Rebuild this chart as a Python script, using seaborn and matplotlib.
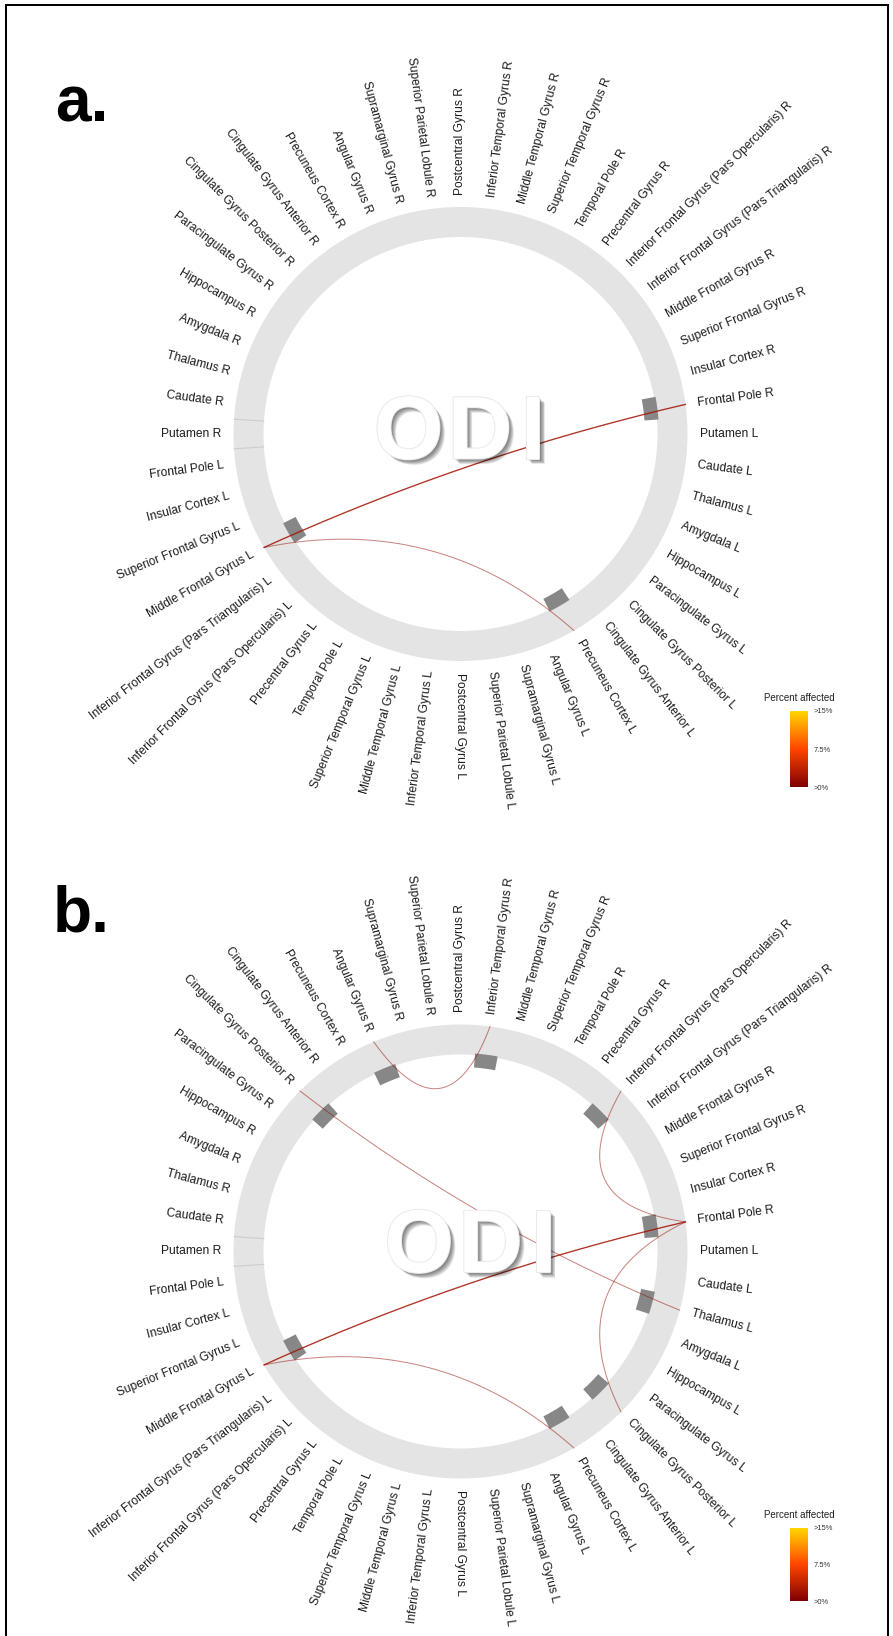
import numpy as np
import matplotlib
matplotlib.use("Agg")
import matplotlib.pyplot as plt
import seaborn as sns
import pandas as pd
from matplotlib.patches import Wedge
from matplotlib import patheffects as pe
from matplotlib.cm import ScalarMappable
from matplotlib.colors import Normalize

sns.set_theme(style="white")
plt.rcParams["font.family"] = ["Liberation Sans", "DejaVu Sans"]

# ---------------------------------------------------------------- data
regions_right = [
    "Frontal Pole R", "Insular Cortex R", "Superior Frontal Gyrus R",
    "Middle Frontal Gyrus R", "Inferior Frontal Gyrus (Pars Triangularis) R",
    "Inferior Frontal Gyrus (Pars Opercularis) R", "Precentral Gyrus R",
    "Temporal Pole R", "Superior Temporal Gyrus R", "Middle Temporal Gyrus R",
    "Inferior Temporal Gyrus R", "Postcentral Gyrus R",
    "Superior Parietal Lobule R", "Supramarginal Gyrus R", "Angular Gyrus R",
    "Precuneus Cortex R", "Cingulate Gyrus Anterior R",
    "Cingulate Gyrus Posterior R", "Paracingulate Gyrus R", "Hippocampus R",
    "Amygdala R", "Thalamus R", "Caudate R", "Putamen R",
]
regions_left = [
    "Frontal Pole L", "Insular Cortex L", "Superior Frontal Gyrus L",
    "Middle Frontal Gyrus L", "Inferior Frontal Gyrus (Pars Triangularis) L",
    "Inferior Frontal Gyrus (Pars Opercularis) L", "Precentral Gyrus L",
    "Temporal Pole L", "Superior Temporal Gyrus L", "Middle Temporal Gyrus L",
    "Inferior Temporal Gyrus L", "Postcentral Gyrus L",
    "Superior Parietal Lobule L", "Supramarginal Gyrus L", "Angular Gyrus L",
    "Precuneus Cortex L", "Cingulate Gyrus Anterior L",
    "Cingulate Gyrus Posterior L", "Paracingulate Gyrus L", "Hippocampus L",
    "Amygdala L", "Thalamus L", "Caudate L", "Putamen L",
]

# connections: (region 1, region 2, percent affected)
chords_a = [
    ("Frontal Pole R", "Middle Frontal Gyrus L", 2.0),
    ("Middle Frontal Gyrus L", "Precuneus Cortex L", 1.0),
]
chords_b = [
    ("Frontal Pole R", "Middle Frontal Gyrus L", 2.0),
    ("Middle Frontal Gyrus L", "Precuneus Cortex L", 1.0),
    ("Angular Gyrus R", "Inferior Temporal Gyrus R", 1.0),
    ("Inferior Frontal Gyrus (Pars Opercularis) R", "Frontal Pole R", 1.0),
    ("Frontal Pole R", "Cingulate Gyrus Posterior L", 1.0),
    ("Cingulate Gyrus Posterior R", "Thalamus L", 1.0),
]

panel_letters = ["a.", "b."]
center_title = "ODI"
cbar_title = "Percent affected"
cbar_ticks = [0, 7.5, 15]
cbar_ticklabels = [">0%", "7.5%", ">15%"]
cbar_colors = ["#7f0000", "#ff4500", "#ffd700"]

# ---------------------------------------------------------------- layout
W, H, DPI = 893, 1636, 100
PT = 72.0 / DPI                      # points per pixel

regions = regions_right + regions_left
step = 360.0 / len(regions)
angle = {name: step * (i + 1) for i, name in enumerate(regions)}

R_OUT, R_IN = 227.0, 197.0
R_LABEL = 239.0
cmap = sns.blend_palette(cbar_colors, as_cmap=True)
norm = Normalize(0, 15)

fig = plt.figure(figsize=(W / DPI, H / DPI), dpi=DPI)
fig.patch.set_facecolor("white")
ax = fig.add_axes([0, 0, 1, 1])
ax.axis("off")


def polar(cx, cy, r, a_deg):
    a = np.deg2rad(a_deg)
    return cx + r * np.cos(a), cy - r * np.sin(a)


def draw_panel(cx, cy, chords, letter, letter_xy, odi_xy, cbar_box):
    # outer ring
    ax.add_patch(Wedge((cx, cy), R_OUT, 0, 360, width=R_OUT - R_IN,
                       facecolor="#e4e4e4", edgecolor="none", zorder=1))
    for a in (angle["Putamen R"] - step / 2, angle["Putamen R"] + step / 2):
        x0, y0 = polar(cx, cy, R_IN, a)
        x1, y1 = polar(cx, cy, R_OUT, a)
        ax.plot([x0, x1], [y0, y1], color="#cdcdcd", lw=0.8, zorder=1.5)

    # region labels
    for name in regions:
        a = angle[name]
        x, y = polar(cx, cy, R_LABEL, a)
        if 90 < a < 270:
            rot, ha = a - 180, "right"
        else:
            rot, ha = (a if a <= 90 else a - 360), "left"
        ax.text(x, y, name, rotation=rot, rotation_mode="anchor", ha=ha,
                va="center", fontsize=12 * PT, color="#1c1c1c", zorder=3)

    # markers for regions taking part in a connection
    used = []
    for s, t, _ in chords:
        for n in (s, t):
            if n not in used:
                used.append(n)
    for n in used:
        a = angle[n]
        ax.add_patch(Wedge((cx, cy), 198.5, -a - 3.3, -a + 3.3, width=14,
                           facecolor="#878787", edgecolor="none", zorder=2))

    # connections as quadratic Bezier curves
    tt = np.linspace(0, 1, 160)[:, None]
    for s, t, val in chords:
        p0 = np.array(polar(0, 0, R_OUT, angle[s]))
        p2 = np.array(polar(0, 0, R_OUT, angle[t]))
        c = (p0 + p2) / 4.0
        pts = (1 - tt) ** 2 * p0 + 2 * (1 - tt) * tt * c + tt ** 2 * p2
        df = pd.DataFrame({"x": pts[:, 0] + cx, "y": pts[:, 1] + cy})
        strong = val >= 2
        sns.lineplot(data=df, x="x", y="y", sort=False, estimator=None, ax=ax,
                     color=cmap(norm(val)), alpha=0.85 if strong else 0.5,
                     lw=(1.35 if strong else 1.0) * PT, zorder=4,
                     legend=False)

    # centre title, white letters with a soft drop shadow
    shadow = [pe.SimplePatchShadow(offset=(o, -o), shadow_rgbFace="black",
                                   alpha=0.09)
              for o in (0.5, 1.0, 1.5, 2.0, 2.5, 3.0, 3.5, 4.0)]
    effects = shadow + [pe.Stroke(linewidth=1.5, foreground="#ebebeb"),
                        pe.Normal()]
    ox, oy = odi_xy
    for ch, dx in zip(center_title, (-52, 19.5, 72.5)):
        ax.text(ox + dx, oy, ch, ha="center", va="baseline",
                fontsize=89 * PT, fontweight="bold", color="white", zorder=5,
                path_effects=effects)

    # panel letter
    ax.text(letter_xy[0], letter_xy[1], letter, ha="left", va="baseline",
            fontsize=64 * PT, fontweight="bold", color="black", zorder=5)

    # colour scale
    x0, y0, w, h = cbar_box
    cax = fig.add_axes([x0 / W, 1 - (y0 + h) / H, w / W, h / H])
    cb = fig.colorbar(ScalarMappable(norm=norm, cmap=cmap), cax=cax)
    cb.outline.set_visible(False)
    cb.set_ticks(cbar_ticks, labels=cbar_ticklabels)
    cax.tick_params(length=0, labelsize=7.5 * PT, pad=4, colors="#333333")
    cax.set_title(cbar_title, fontsize=9.8 * PT, pad=7, color="#222222")


draw_panel(460.5, 434.0, chords_a, panel_letters[0], (55, 121),
           (460.5, 458.5), (790, 711, 18, 76))
draw_panel(460.5, 1251.5, chords_b, panel_letters[1], (53, 932),
           (471.0, 1272.0), (790, 1528, 18, 73))

ax.set_xlim(0, W)
ax.set_ylim(H, 0)

# frame
ax.plot([6, 6, 888, 888], [H, 5, 5, H], color="black", lw=2 * PT,
        solid_joinstyle="miter", zorder=6)

fig.savefig("out.png", dpi=DPI, facecolor="white")
